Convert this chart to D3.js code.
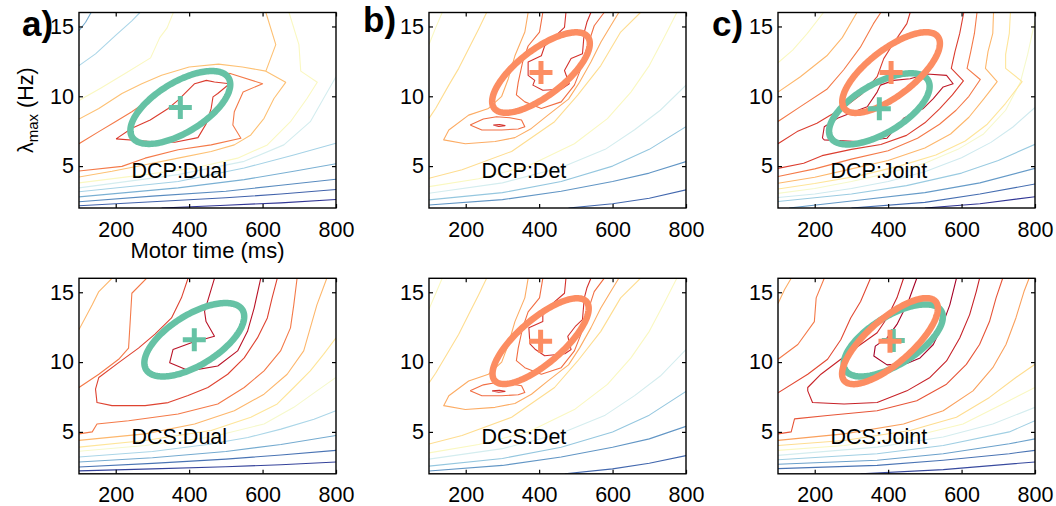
<!DOCTYPE html>
<html><head><meta charset="utf-8">
<script src="https://cdn.jsdelivr.net/npm/d3@7"></script>
<style>
body{margin:0;background:#fff}
text{font-family:"Liberation Sans",Arial,Helvetica,sans-serif;fill:#000}
</style></head>
<body><svg id="chart" width="1056" height="506"></svg>
<script>
// ---------- data ----------
const xDomain=[100,800], yDomain=[2,16];
const xTicks=[200,400,600,800];
const yTicks=[5,10,15];
const panelNames=["DCP:Dual","DCP:Det","DCP:Joint","DCS:Dual","DCS:Det","DCS:Joint"];
const panelLetters=["a)","b)","c)"];
const xLabel="Motor time (ms)";
// ellipse fits: [centre ms, centre Hz, spread ms, spread Hz, correlation]
const fitDCPDual=[376,9.2,136,2.61,0.63];
const fitDCPDet=[405,11.7,133,2.88,0.72];
const fitDCPJointDual=[376,9.1,137,2.55,0.63];
const fitDCPJointDet=[408,11.7,133,2.89,0.72];
const fitDCSDual=[414,11.6,136,2.63,0.63];
const fitDCSDet=[404,11.5,131,3.07,0.76];
const fitDCSJointDual=[414,11.55,135,2.58,0.65];
const fitDCSJointDet=[405,11.5,130.5,3.08,0.76];
// contour lines: [colour level 0..10, points [ms,Hz]]
const contoursDCPDual=[
 [0,[[325,2],[500,2.2],[650,2.37],[800,2.61]]],
 [0.7,[[100,2.16],[300,2.45],[500,2.73],[650,3.0],[800,3.32]]],
 [1.4,[[100,2.45],[300,2.85],[500,3.2],[650,3.63],[800,4.06]]],
 [2.1,[[100,2.8],[370,3.44],[550,4.03],[685,4.63],[800,5.17]]],
 [2.9,[[100,3.16],[370,3.9],[550,4.86],[685,5.8],[800,6.64]]],
 [3.8,[[100,3.44],[370,4.39],[550,5.34],[658,6.52],[730,8.18],[766,9.84],[800,11.4]]],
 [2,[[100,14.7],[118,15.3],[133,16]]],
 [3,[[100,12.2],[145,13.04],[199,14.34],[244,15.4],[266,16]]],
 [5,[[100,3.8],[280,4.39],[415,4.86],[532,5.57],[613,6.52],[676,8.18],[721,9.84],[749,11.0],[704,11.8],[699,13.7],[672,16]]],
 [5,[[100,9.7],[160,10.6],[230,11.7],[295,12.75],[320,14.2],[340,14.9],[357,16]]],
 [6.6,[[100,4.22],[190,4.63],[280,5.1],[370,5.57],[460,6.05],[523,6.52],[568,7.23],[604,8.42],[631,9.84],[663,11.0],[609,11.8],[636,13.7],[609,16]]],
 [6.6,[[100,8.37],[154,9.13],[217,10.2],[271,10.9],[325,11.5],[400,12.1],[480,12.3],[545,12.1],[609,11.8]]],
 [7.8,[[100,6.6],[154,7.47],[199,8.18],[244,8.89],[289,9.72],[334,10.67],[370,11.26],[442,11.73],[514,11.62],[600,10.9],[547,10.31],[523,8.89],[519,7.94],[541,7.0],[460,6.52],[370,6.17],[280,5.57],[217,4.98],[100,4.65]]],
 [8.8,[[201,6.95],[244,7.71],[294,8.3],[343,9.13],[370,9.72],[415,10.9],[447,11.14],[469,11.02],[510,10.9],[478,10.2],[465,9.96],[460,9.13],[447,8.06],[424,7.04],[361,6.71],[294,6.76],[201,6.95]]]
];
const contoursDCPDet=[
 [0.8,[[480,2],[600,2.3],[700,2.7],[800,3.3]]],
 [1.6,[[100,2.22],[300,2.6],[460,3.2],[600,3.9],[700,4.5],[800,5.32]]],
 [2.6,[[100,2.58],[300,3.1],[460,3.9],[600,5.0],[700,6.2],[800,7.82]]],
 [3.8,[[100,3.06],[300,3.8],[460,4.9],[580,6.2],[660,7.6],[730,9.0],[800,10.8]]],
 [5,[[100,3.53],[235,4.1],[370,5.0],[496,6.6],[586,8.4],[650,10.3],[700,12.2],[740,14.2],[775,16]]],
 [5,[[100,13.7],[118,14.9],[136,16]]],
 [6,[[100,4.13],[190,4.74],[325,6.05],[442,8.18],[505,10.08],[568,12.2],[622,14.6],[676,16]]],
 [6,[[100,8.42],[118,9.13],[154,10.8],[181,12],[208,13.4],[235,14.8],[257,16]]],
 [7,[[370,16],[361,14.6],[334,12.9],[316,11.26],[298,10.0],[262,9.13],[208,8.65],[154,7.59],[140,6.88],[199,6.6],[280,6.76],[334,7.04],[379,7.7],[424,8.65],[480,9.8],[510,11.0],[541,12.45],[568,13.87],[595,15.05],[617,16]]],
 [8,[[410,16],[401,14.6],[370,13.6],[355,12.45],[343,11.0],[338,10.1],[361,9.6],[406,9.13],[460,9.6],[496,10.8],[514,12.0],[532,13.6],[550,15.05],[577,16]]],
 [8,[[212,7.94],[248,8.37],[284,8.54],[320,8.46],[352,8.3],[361,7.82],[343,7.66],[298,7.59],[244,7.59],[212,7.94]]],
 [9,[[473,16],[469,14.93],[415,13.6],[406,12.9],[370,12.45],[370,11.5],[388,11.14],[383,10.8],[410,10.43],[460,10.5],[482,10.9],[469,11.85],[487,12.7],[518,13.04],[523,14.6],[530,15.3],[541,16]]],
 [9,[[275,7.94],[292,7.98],[307,7.9],[290,7.84],[275,7.94]]]
];
const contoursDCPJoint=[
 [0,[[500,2],[650,2.3],[800,2.81]]],
 [0.9,[[300,2],[500,2.4],[650,3.0],[800,3.72]]],
 [1.7,[[130,2],[300,2.5],[500,3.1],[650,3.8],[800,4.84]]],
 [2.7,[[100,2.46],[300,3.0],[450,3.6],[600,4.5],[700,5.4],[800,6.56]]],
 [3.7,[[100,2.75],[200,3.0],[300,3.4],[400,3.9],[500,4.6],[600,5.6],[680,6.7],[740,7.8],[800,9.2]]],
 [4.8,[[100,3.05],[200,3.4],[300,3.9],[400,4.5],[500,5.2],[590,6.2],[660,7.3],[720,9],[760,11],[780,13],[800,15.4]]],
 [5.8,[[100,3.36],[200,3.75],[320,4.3],[430,5.0],[530,5.8],[610,6.8],[670,8.0],[720,9.5],[765,11.05],[720,12],[720,13],[730,14.5],[733,16]]],
 [6.8,[[100,3.77],[200,4.2],[300,4.8],[400,5.4],[500,6.3],[570,7.3],[620,8.5],[660,9.8],[697,11.05],[665,12.0],[672,13.2],[685,14.5],[687,16]]],
 [7.8,[[100,4.25],[200,4.8],[300,5.5],[400,6.1],[480,7.0],[540,8.0],[585,9.0],[620,10.0],[651,11.2],[615,12.0],[625,13.2],[635,14.5],[642,16]]],
 [8.8,[[100,4.84],[170,5.2],[220,5.75],[300,6.2],[380,6.55],[450,7.2],[500,8.1],[540,9.1],[575,10.1],[605,11.1],[572,12.0],[582,13.2],[595,14.5],[606,16]]],
 [5,[[100,12.4],[140,13.3],[180,14.5],[224,16]]],
 [6.8,[[100,10.3],[161,11.4],[233,12.9],[275,14.2],[315,16]]],
 [7.8,[[100,8.2],[161,9.26],[233,10.5],[279,11.9],[324,13.5],[360,15.2],[380,16]]],
 [8.8,[[100,6.6],[152,7.47],[206,8.07],[240,8.6],[280,9.2],[330,10.2],[370,11.4],[388,12.7],[405,13.4],[430,14.4],[451,15.2],[460,16]]],
 [9.5,[[221,7.0],[226,7.82],[262,8.42],[307,8.9],[343,9.25],[370,10.3],[379,10.8],[415,11.14],[460,11.26],[505,11.6],[559,11.5],[577,10.9],[550,10.67],[523,9.84],[496,9.13],[442,8.42],[424,7.82],[397,7.0],[316,6.76],[226,6.88],[221,7.0]]]
];
const contoursDCSDual=[
 [0.2,[[100,2.21],[300,2.35],[500,2.5],[650,2.65],[800,2.85]]],
 [1,[[100,2.49],[300,2.75],[500,3.05],[650,3.35],[800,3.68]]],
 [2,[[100,2.85],[300,3.15],[500,3.6],[650,4.1],[800,4.74]]],
 [3,[[100,3.2],[300,3.6],[450,4.1],[560,4.6],[650,5.2],[740,5.9],[800,6.52]]],
 [4.8,[[100,3.61],[280,4.03],[460,4.63],[604,5.57],[685,6.76],[748,7.94],[800,8.9]]],
 [5.8,[[100,3.91],[280,4.39],[460,5.1],[568,6.05],[640,7.0],[685,8.18],[730,9.37],[766,10.55],[800,11.73]]],
 [6.8,[[100,4.39],[280,4.86],[415,5.57],[523,6.52],[604,7.7],[667,9.13],[712,10.8],[730,12.45],[748,14.1],[775,16]]],
 [7.8,[[100,4.86],[136,5.0],[149,5.57],[235,5.8],[370,6.28],[478,7.0],[550,8.18],[604,9.37],[649,10.8],[676,12.45],[685,14.1],[694,16]]],
 [6.8,[[100,12.33],[136,14.1],[154,15.05],[190,16]]],
 [7.8,[[100,8.18],[154,9.13],[208,10.2],[235,11.0],[240,13.16],[244,14.93],[284,16]]],
 [8.7,[[397,16],[379,14.6],[352,13.16],[307,12],[262,11.0],[208,9.96],[154,8.9],[145,8.06],[149,7.1],[190,6.88],[280,6.88],[343,7.1],[397,7.6],[451,8.18],[505,9.13],[550,10.3],[586,11.73],[613,13.16],[626,14.6],[640,16]]],
 [9.6,[[469,16],[442,13.63],[446,12.9],[469,11.85],[406,11.38],[356,10.9],[347,9.96],[401,9.37],[478,9.72],[532,10.8],[559,12.2],[577,13.87],[595,16]]]
];
const contoursDCSDet=[
 [0.8,[[470,2],[600,2.35],[700,2.75],[800,3.3]]],
 [1.6,[[100,2.2],[300,2.6],[460,3.2],[600,3.9],[700,4.5],[800,5.4]]],
 [2.6,[[100,2.55],[300,3.1],[460,3.9],[600,5.0],[700,6.2],[800,7.9]]],
 [3.8,[[100,3.05],[300,3.8],[460,4.9],[580,6.2],[660,7.6],[730,9.0],[800,10.9]]],
 [5,[[100,3.5],[235,4.1],[370,5.0],[496,6.6],[586,8.4],[650,10.3],[700,12.2],[740,14.2],[775,16]]],
 [5,[[100,13.8],[118,14.9],[136,16]]],
 [6,[[100,4.13],[190,4.74],[325,6.05],[442,8.18],[505,10.08],[568,12.2],[622,14.6],[676,16]]],
 [6,[[100,8.5],[118,9.2],[154,10.8],[181,12],[208,13.4],[235,14.8],[257,16]]],
 [7,[[370,16],[361,14.6],[334,12.9],[316,11.26],[298,10.0],[262,9.13],[208,8.65],[154,7.59],[140,6.88],[199,6.6],[280,6.76],[334,7.04],[379,7.7],[424,8.65],[480,9.8],[510,11.0],[541,12.45],[568,13.87],[595,15.05],[617,16]]],
 [8,[[410,16],[401,14.6],[370,13.6],[355,12.45],[343,11.0],[338,10.1],[361,9.6],[406,9.13],[460,9.6],[496,10.8],[514,12.0],[532,13.6],[550,15.05],[577,16]]],
 [8,[[212,7.94],[248,8.37],[284,8.54],[320,8.46],[352,8.3],[361,7.82],[343,7.66],[298,7.59],[244,7.59],[212,7.94]]],
 [9,[[473,16],[469,14.93],[410,13.6],[410,12.9],[372,12.45],[375,11.3],[390,10.9],[415,10.45],[470,10.6],[487,10.9],[478,11.85],[500,12.6],[518,13.04],[523,14.6],[530,15.3],[541,16]]],
 [9,[[272,7.94],[292,7.98],[307,7.9],[290,7.84],[272,7.94]]]
];
const contoursDCSJoint=[
 [0.3,[[325,2],[550,2.3],[800,2.85]]],
 [1,[[100,2.37],[370,2.6],[550,2.97],[730,3.44],[800,3.68]]],
 [1.8,[[100,2.68],[370,2.97],[550,3.44],[730,4.15],[800,4.5]]],
 [2.8,[[100,3.01],[370,3.44],[550,4.03],[730,5.0],[800,5.8]]],
 [3.8,[[100,3.32],[370,3.91],[550,4.63],[685,5.57],[800,6.76]]],
 [5,[[100,3.68],[280,4.03],[460,4.63],[604,5.57],[712,7.0],[800,8.18]]],
 [6,[[100,4.03],[280,4.39],[460,5.1],[586,6.05],[676,7.47],[748,8.9],[800,9.84]]],
 [7.2,[[100,4.39],[280,4.86],[442,5.57],[550,6.52],[631,7.94],[685,9.6],[721,11.26],[748,13.16],[770,15.05],[784,16]]],
 [8.4,[[100,4.86],[136,5.0],[145,5.93],[235,6.17],[370,6.52],[478,7.23],[559,8.42],[613,9.84],[649,11.26],[676,12.9],[694,14.6],[712,16]]],
 [7,[[100,14.2],[118,15.2],[136,16]]],
 [7.8,[[100,10.2],[154,11.26],[199,12.9],[204,14.6],[226,16]]],
 [8.6,[[100,7.8],[181,9.13],[235,10.2],[271,11.6],[298,13.16],[325,14.34],[352,16]]],
 [9.3,[[442,16],[424,14.6],[397,13.16],[370,12.1],[325,11.26],[271,10.2],[217,9.13],[181,8.18],[181,7.94],[194,7.11],[280,7.0],[370,7.11],[451,7.94],[514,8.9],[559,10.08],[595,11.73],[622,13.4],[640,15.05],[649,16]]],
 [10,[[478,16],[455,14.34],[424,12.7],[397,11.73],[365,11.14],[361,10.43],[397,9.8],[451,9.9],[487,10.3],[523,11.26],[545,12.45],[568,14.1],[586,16]]]
];

const dualColour="#66c2a5", detColour="#fc8d62";
const panels=[
 {name:panelNames[0],col:0,row:0,cont:contoursDCPDual,fits:[[fitDCPDual,dualColour]]},
 {name:panelNames[1],col:1,row:0,cont:contoursDCPDet,fits:[[fitDCPDet,detColour]]},
 {name:panelNames[2],col:2,row:0,cont:contoursDCPJoint,fits:[[fitDCPJointDual,dualColour],[fitDCPJointDet,detColour]]},
 {name:panelNames[3],col:0,row:1,cont:contoursDCSDual,fits:[[fitDCSDual,dualColour]]},
 {name:panelNames[4],col:1,row:1,cont:contoursDCSDet,fits:[[fitDCSDet,detColour]]},
 {name:panelNames[5],col:2,row:1,cont:contoursDCSJoint,fits:[[fitDCSJointDual,dualColour],[fitDCSJointDet,detColour]]}
];

// ---------- layout ----------
const colLeft=[79,429,778], plotW=257;
const rowTop=[12.5,278.3], plotH=195.5;
const svg=d3.select("#chart");
const colour=l=>d3.interpolateRdYlBu(1-l/10);

panels.forEach((p,i)=>{
  const g=svg.append("g").attr("transform",`translate(${colLeft[p.col]},${rowTop[p.row]})`);
  const x=d3.scaleLinear().domain(xDomain).range([0,plotW]);
  const y=d3.scaleLinear().domain(yDomain).range([plotH,0]);
  const cid="clip"+i;
  g.append("clipPath").attr("id",cid).append("rect").attr("width",plotW).attr("height",plotH);
  const body=g.append("g").attr("clip-path",`url(#${cid})`);
  const line=d3.line().x(d=>x(d[0])).y(d=>y(d[1]));
  body.selectAll("path.c").data(p.cont).join("path").attr("class","c")
    .attr("d",d=>line(d[1])).attr("fill","none").attr("stroke",d=>colour(d[0]))
    .attr("stroke-width",1.1).attr("stroke-linejoin","round");
  const eline=d3.line().x(d=>x(d[0])).y(d=>y(d[1])).curve(d3.curveLinearClosed);
  p.fits.forEach(([f,c])=>{
    const [cx,cy,sx,sy,r]=f;
    const pts=d3.range(0,360,2).map(a=>{const t=a*Math.PI/180;return [cx+sx*Math.cos(t),cy+sy*(r*Math.cos(t)+Math.sqrt(1-r*r)*Math.sin(t))];});
    body.append("path").attr("d",eline(pts)).attr("fill","none").attr("stroke",c).attr("stroke-width",6.5);
  });
  p.fits.forEach(([f,c])=>{
    const px=x(f[0]),py=y(f[1]),s=11.5;
    body.append("line").attr("x1",px-s).attr("x2",px+s).attr("y1",py).attr("y2",py).attr("stroke",c).attr("stroke-width",5);
    body.append("line").attr("x1",px).attr("x2",px).attr("y1",py-s).attr("y2",py+s).attr("stroke",c).attr("stroke-width",5);
  });
  g.append("text").attr("x",x(243)).attr("y",y(4.15)).attr("font-size",21.5).text(p.name);
  const fs=21.5;
  const ax=g.append("g").attr("transform",`translate(0,${plotH})`).call(d3.axisBottom(x).tickValues(xTicks).tickSizeInner(-4).tickSizeOuter(0).tickPadding(p.row?12.5:13.5));
  const ay=g.append("g").call(d3.axisLeft(y).tickValues(yTicks).tickSizeInner(-4).tickSizeOuter(0).tickPadding(5));
  const at=g.append("g").call(d3.axisTop(x).tickValues(xTicks).tickSizeInner(-4).tickSizeOuter(0).tickFormat(""));
  const ar=g.append("g").attr("transform",`translate(${plotW},0)`).call(d3.axisRight(y).tickValues(yTicks).tickSizeInner(-4).tickSizeOuter(0).tickFormat(""));
  [ax,ay,at,ar].forEach(a=>{a.select(".domain").remove();a.selectAll("line").attr("stroke","#000").attr("stroke-width",1.2);
    a.selectAll("text").attr("font-size",fs).attr("font-family","Liberation Sans, Arial, sans-serif").attr("fill","#000");});
  g.append("rect").attr("width",plotW).attr("height",plotH).attr("fill","none").attr("stroke","#000").attr("stroke-width",1.4);
});

const letterX=[22,363,712], letterY=[36,32,36];
panelLetters.forEach((t,i)=>svg.append("text").attr("x",letterX[i]).attr("y",letterY[i]).attr("font-size",35).attr("font-weight","bold").text(t));
svg.append("text").attr("x",colLeft[0]+plotW/2).attr("y",258).attr("text-anchor","middle").attr("font-size",22).text(xLabel);
const yl=svg.append("text").attr("transform",`translate(33,${rowTop[0]+plotH/2}) rotate(-90)`).attr("text-anchor","middle").attr("font-size",21.5);
yl.append("tspan").text("λ");
yl.append("tspan").attr("font-size",15).attr("dy",5).text("max");
yl.append("tspan").attr("dy",-5).text(" (Hz)");
</script></body></html>
